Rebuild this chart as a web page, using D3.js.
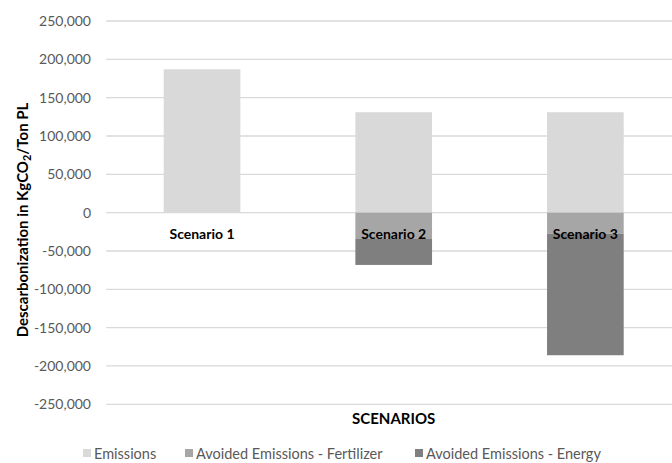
<!DOCTYPE html>
<html>
<head>
<meta charset="utf-8">
<script src="https://cdn.jsdelivr.net/npm/d3@7"></script>
<style>
  html, body { margin: 0; padding: 0; background: #fff; }
  svg { display: block; font-family: Lato, "Open Sans", sans-serif; }
</style>
</head>
<body>
<svg id="chart" width="672" height="463"></svg>
<script>
// Scenario categories and stacked series (KgCO2 per ton PL)
const categories = ["Scenario 1", "Scenario 2", "Scenario 3"];
const emissions = [187000, 131000, 131000];
const avoidedFertilizer = [0, -34300, -27400];
const avoidedEnergy = [0, -33900, -158600];
const seriesNames = ["Emissions", "Avoided Emissions - Fertilizer", "Avoided Emissions - Energy"];
const seriesColors = ["#d9d9d9", "#a6a6a6", "#7f7f7f"];
const yTicks = [-250000, -200000, -150000, -100000, -50000, 0, 50000, 100000, 150000, 200000, 250000];

const svg = d3.select("#chart");

const x = d3.scaleBand()
  .domain(categories)
  .range([106.2, 681.2])
  .paddingInner(0.6)
  .paddingOuter(0.3);

const y = d3.scaleLinear()
  .domain([-250000, 250000])
  .range([404.3, 21]);

// Gridlines
svg.append("g")
  .selectAll("line")
  .data(yTicks)
  .join("line")
  .attr("x1", 106.2)
  .attr("x2", 672)
  .attr("y1", d => y(d))
  .attr("y2", d => y(d))
  .attr("stroke", "#d9d9d9")
  .attr("stroke-width", 1.3);

// Y axis tick labels (plain hyphen for negatives)
const fmt = d3.format(",");
const yAxis = d3.axisLeft(y)
  .tickValues(yTicks)
  .tickFormat(d => fmt(d).replace("\u2212", "-"))
  .tickSize(0)
  .tickPadding(0);
const yg = svg.append("g").attr("transform", "translate(91,0)").call(yAxis);
yg.select(".domain").remove();
yg.selectAll("text")
  .attr("fill", "#595959")
  .style("font-size", "14px")
  .style("font-family", "Lato, sans-serif");

// Stacked bars, diverging around zero
const rows = categories.map((c, i) => ({
  cat: c,
  [seriesNames[0]]: emissions[i],
  [seriesNames[1]]: avoidedFertilizer[i],
  [seriesNames[2]]: avoidedEnergy[i]
}));
const stacked = d3.stack().keys(seriesNames).offset(d3.stackOffsetDiverging)(rows);

svg.append("g")
  .selectAll("g")
  .data(stacked)
  .join("g")
  .attr("fill", (d, i) => seriesColors[i])
  .selectAll("rect")
  .data(d => d.filter(p => p[1] !== p[0]))
  .join("rect")
  .attr("x", d => x(d.data.cat))
  .attr("width", x.bandwidth())
  .attr("y", d => y(Math.max(d[0], d[1])))
  .attr("height", d => Math.abs(y(d[0]) - y(d[1])));

// Category labels next to the zero line
svg.append("g")
  .selectAll("text")
  .data(categories)
  .join("text")
  .attr("x", d => x(d) + x.bandwidth() / 2)
  .attr("y", 238.5)
  .attr("text-anchor", "middle")
  .attr("font-weight", "bold")
  .attr("fill", "#000")
  .style("font-size", "14px")
  .text(d => d);

// Axis titles
svg.append("text")
  .attr("x", (x.range()[0] + x.range()[1]) / 2)
  .attr("y", 424)
  .attr("text-anchor", "middle")
  .attr("font-weight", "bold")
  .attr("fill", "#000")
  .style("font-size", "15px")
  .text("SCENARIOS");

const yTitle = svg.append("text")
  .attr("transform", "translate(28,220) rotate(-90)")
  .attr("text-anchor", "middle")
  .attr("font-weight", "bold")
  .attr("fill", "#000")
  .style("font-size", "15px");
yTitle.append("tspan").text("Descarbonization in KgCO");
yTitle.append("tspan").attr("baseline-shift", "-25%").style("font-size", "11px").text("2");
yTitle.append("tspan").text("/Ton PL");

// Legend
const legendX = [83, 185, 415];
const legend = svg.append("g")
  .selectAll("g")
  .data(seriesNames)
  .join("g")
  .attr("transform", (d, i) => `translate(${legendX[i]},449)`);
legend.append("rect")
  .attr("width", 8)
  .attr("height", 8)
  .attr("fill", (d, i) => seriesColors[i]);
legend.append("text")
  .attr("x", 11)
  .attr("y", 9.5)
  .attr("fill", "#595959")
  .style("font-size", "14.5px")
  .text(d => d);
</script>
</body>
</html>
